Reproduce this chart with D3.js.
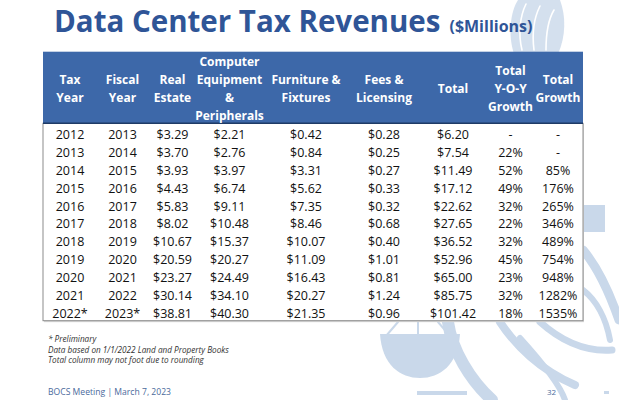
<!DOCTYPE html>
<html><head><meta charset="utf-8">
<script src="https://cdn.jsdelivr.net/npm/d3@7/dist/d3.min.js"></script>
<style>
html,body{margin:0;padding:0;background:#fff;}
svg{display:block;}
</style></head>
<body>
<script>
// ---- data ----
const headers = [
  ["Tax","Year"],
  ["Fiscal","Year"],
  ["Real","Estate"],
  ["Computer","Equipment","&","Peripherals"],
  ["Furniture &","Fixtures"],
  ["Fees &","Licensing"],
  ["Total"],
  ["Total","Y-O-Y","Growth"],
  ["Total","Growth"]
];
const taxYears    = ["2012","2013","2014","2015","2016","2017","2018","2019","2020","2021","2022*"];
const fiscalYears = ["2013","2014","2015","2016","2017","2018","2019","2020","2021","2022","2023*"];
const realEstate  = [3.29,3.70,3.93,4.43,5.83,8.02,10.67,20.59,23.27,30.14,38.81];
const computerEq  = [2.21,2.76,3.97,6.74,9.11,10.48,15.37,20.27,24.49,34.10,40.30];
const furniture   = [0.42,0.84,3.31,5.62,7.35,8.46,10.07,11.09,16.43,20.27,21.35];
const fees        = [0.28,0.25,0.27,0.33,0.32,0.68,0.40,1.01,0.81,1.24,0.96];
const totals      = [6.20,7.54,11.49,17.12,22.62,27.65,36.52,52.96,65.00,85.75,101.42];
const yoyGrowth   = [null,22,52,49,32,22,32,45,23,32,18];
const totalGrowth = [null,null,85,176,265,346,489,754,948,1282,1535];
const title = "Data Center Tax Revenues";
const subtitle = "($Millions)";
const notes = ["*  Preliminary","Data based on 1/1/2022 Land and Property Books","Total column may not foot due to rounding"];
const footer = "BOCS  Meeting | March 7, 2023";
const pageNum = "32";

// ---- layout ----
const W = 619, H = 400;
const colWidths = [54,51,49,65,88,68,70,45,50];
const tableLeft = 43, headTop = 51.7, headBottom = 123.3, bodyBottom = 320.7;

const money = d => "$" + d.toFixed(2);
const pct = d => d == null ? "-" : d + "%";
const rows = taxYears.map((t,i) => [
  t, fiscalYears[i], money(realEstate[i]), money(computerEq[i]), money(furniture[i]),
  money(fees[i]), money(totals[i]), pct(yoyGrowth[i]), pct(totalGrowth[i])
]);

const svg = d3.select("body").append("svg").attr("width",W).attr("height",H);

// ---- background seal (decorative, faint) ----
const sealC = "#c9d8ea";
const seal = svg.append("g").attr("fill","none").attr("stroke",sealC).attr("stroke-linecap","round");
seal.append("path").attr("d","M514,54 C508,36 510,12 518,0 L560,0 C566,16 566,36 558,54 Z")
  .attr("fill","#d4e0ee").attr("stroke","none");
seal.append("path").attr("d","M522,50 C518,34 520,16 526,4 M534,50 C532,34 534,18 540,6 M546,50 C546,34 548,20 554,10")
  .attr("stroke","#fff").attr("stroke-width",1.6);
seal.append("rect").attr("x",583).attr("y",205).attr("width",22).attr("height",27).attr("fill",sealC).attr("stroke","none");
seal.append("path").attr("d","M448,322 C452,350 470,380 492,400").attr("stroke-width",12);
seal.append("path").attr("d","M500,322 C515,345 540,370 575,385").attr("stroke-width",8);
seal.append("path").attr("d","M540,322 C560,340 585,352 612,350").attr("stroke-width",7);
seal.append("path").attr("d","M583,250 C600,270 612,300 619,320").attr("stroke-width",9);
seal.append("path").attr("d","M583,290 C596,300 606,318 610,340").attr("stroke-width",6);
seal.append("path").attr("d","M520,338 C540,360 560,385 565,400").attr("stroke-width",6);
seal.append("path").attr("d","M418,322 L418,334 M398,322 L386,336 M438,322 L450,336").attr("stroke-width",2);
seal.append("path").attr("d","M380,334 L460,334 C458,365 440,378 420,378 C400,378 382,365 380,334 Z")
  .attr("fill",sealC).attr("stroke","none");
seal.append("rect").attr("x",417).attr("y",391).attr("width",50).attr("height",4).attr("fill",sealC).attr("stroke","none");
seal.append("rect").attr("x",604).attr("y",391).attr("width",5).attr("height",3).attr("fill",sealC).attr("stroke","none");

// ---- title ----
const t = svg.append("text").attr("x",54).attr("y",32)
  .attr("font-family","'Open Sans', sans-serif").attr("font-weight",700).attr("fill","#2f5597");
t.append("tspan").attr("font-size",29.5).text(title);
t.append("tspan").attr("font-size",16).attr("dx",9).text(subtitle);

// ---- column scale ----
const colEdges = [tableLeft];
colWidths.forEach((w,i)=>colEdges.push(colEdges[i]+w));
const tableRight = colEdges[colEdges.length-1];
const xCenter = d3.scaleOrdinal().domain(d3.range(headers.length))
  .range(d3.range(headers.length).map(i => (colEdges[i]+colEdges[i+1])/2));
const y = d3.scaleBand().domain(d3.range(rows.length)).range([headBottom, bodyBottom]);

// table body frame with soft shadow
svg.append("rect").attr("x",tableLeft+1).attr("y",headBottom).attr("width",tableRight-tableLeft)
  .attr("height",bodyBottom-headBottom+1.5).attr("fill","#d9d9d9");
svg.append("rect").attr("x",tableLeft).attr("y",headBottom).attr("width",tableRight-tableLeft)
  .attr("height",bodyBottom-headBottom).attr("fill","#fff").attr("stroke","#8c8c8c").attr("stroke-width",1);

// header
svg.append("rect").attr("x",tableLeft).attr("y",headTop).attr("width",tableRight-tableLeft)
  .attr("height",headBottom-headTop).attr("fill","#3d68a9");
svg.append("line").attr("x1",tableLeft).attr("x2",tableRight).attr("y1",headBottom).attr("y2",headBottom)
  .attr("stroke","#1f3b66").attr("stroke-width",1.5);

const lineH = 18, midBase = 93;
svg.append("g").selectAll("text").data(headers).join("text")
  .attr("x",(d,i)=>xCenter(i))
  .attr("text-anchor","middle")
  .attr("font-family","'Open Sans', sans-serif").attr("font-weight",700).attr("font-size",12)
  .attr("fill","#fff")
  .each(function(lines){
    const n = lines.length;
    d3.select(this).selectAll("tspan").data(lines).join("tspan")
      .attr("x",d3.select(this).attr("x"))
      .attr("y",(l,k)=>midBase + (k-(n-1)/2)*lineH)
      .text(l=>l);
  });

// body
const body = svg.append("g").attr("font-family","'Open Sans', sans-serif").attr("font-size",12.5).attr("fill","#111");
rows.forEach((r,ri)=>{
  body.selectAll(null).data(r).join("text")
    .attr("x",(d,ci)=>xCenter(ci))
    .attr("y",y(ri)+y.bandwidth()*0.86)
    .attr("text-anchor","middle")
    .text(d=>d);
});

// notes
svg.append("g").selectAll("text").data(notes).join("text")
  .attr("x",48).attr("y",(d,i)=>342+i*10.7)
  .attr("font-family","'Open Sans', sans-serif").attr("font-style","italic").attr("font-size",8.2)
  .attr("fill","#333").text(d=>d);

svg.append("text").attr("x",48).attr("y",395)
  .attr("font-family","'Open Sans', sans-serif").attr("font-size",8.6).attr("fill","#4a6a9c").text(footer);
svg.append("text").attr("x",547).attr("y",395)
  .attr("font-family","'Open Sans', sans-serif").attr("font-size",8).attr("fill","#4a6a9c").text(pageNum);
</script>
</body></html>
